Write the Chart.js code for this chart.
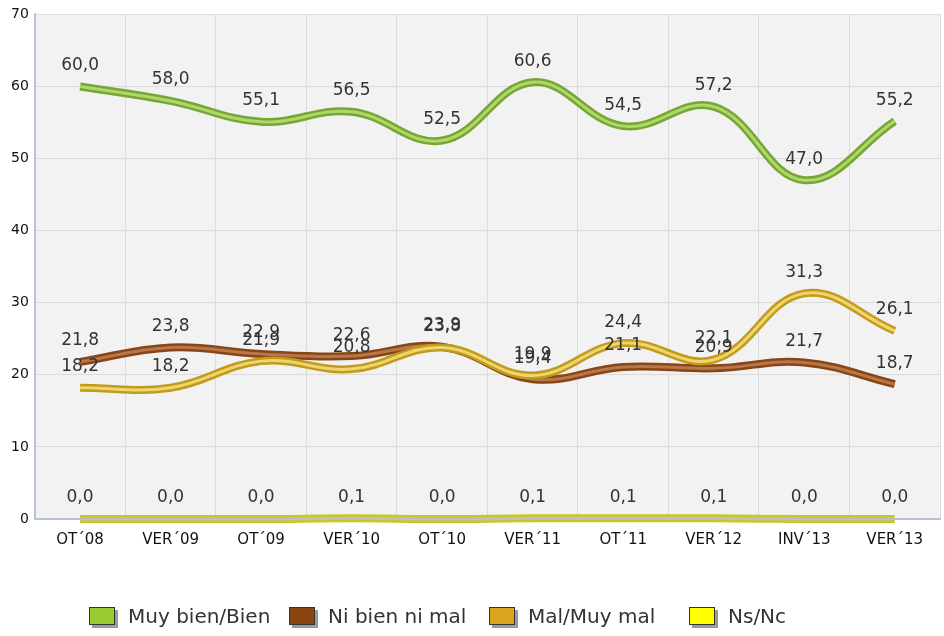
<!DOCTYPE html>
<html>
<head>
<meta charset="utf-8">
<script src="https://cdn.jsdelivr.net/npm/chart.js@4"></script>
<style>
    html, body { margin: 0; padding: 0; background: #fff; }
    #wrap { width: 944px; height: 636px; }
</style>
</head>
<body>
<div id="wrap"><canvas id="evolucionChart" width="944" height="636"></canvas></div>
<script>
const periodos = ['OT´08', 'VER´09', 'OT´09', 'VER´10', 'OT´10', 'VER´11', 'OT´11', 'VER´12', 'INV´13', 'VER´13'];
const muyBien = [60.0, 58.0, 55.1, 56.5, 52.5, 60.6, 54.5, 57.2, 47.0, 55.2];
const niBien = [21.8, 23.8, 22.9, 22.6, 23.9, 19.4, 21.1, 20.9, 21.7, 18.7];
const malMuyMal = [18.2, 18.2, 21.9, 20.8, 23.8, 19.9, 24.4, 22.1, 31.3, 26.1];
const nsNc = [0.0, 0.0, 0.0, 0.1, 0.0, 0.1, 0.1, 0.1, 0.0, 0.0];
const ticksY = [0, 10, 20, 30, 40, 50, 60, 70];

const FUENTE = 'DejaVu Sans';

// nombre, datos, color linea, brillo, color leyenda, orden
const series = [
    { label: 'Muy bien/Bien', data: muyBien, borde: '#76a634', brillo: '#b0d76a', leyenda: '#99cc33', orden: 4 },
    { label: 'Ni bien ni mal', data: niBien, borde: '#874518', brillo: '#b87747', leyenda: '#8b4513', orden: 2 },
    { label: 'Mal/Muy mal', data: malMuyMal, borde: '#c29a1c', brillo: '#edd66e', leyenda: '#daa520', orden: 0 },
    { label: 'Ns/Nc', data: nsNc, borde: '#c8c81e', brillo: '#b9c1c4', leyenda: '#ffff00', orden: 6 }
];

const datasets = [];
series.forEach(s => {
    datasets.push({ label: s.label, data: s.data, borderColor: s.borde, backgroundColor: s.borde, borderWidth: 8, pointRadius: 0, tension: 0.4, clip: false, order: s.orden + 1, principal: true });
    datasets.push({ label: s.label + '_brillo', data: s.data, borderColor: s.brillo, backgroundColor: s.brillo, borderWidth: 3, pointRadius: 0, tension: 0.4, clip: false, order: s.orden });
});

const fondoPlot = {
    id: 'fondoPlot',
    beforeDraw(chart) {
        const { ctx, chartArea: a } = chart;
        ctx.save();
        ctx.fillStyle = '#f2f2f2';
        ctx.fillRect(a.left, a.top, a.right - a.left, a.bottom - a.top);
        ctx.restore();
    }
};

const etiquetas = {
    id: 'etiquetas',
    afterDatasetsDraw(chart) {
        const ctx = chart.ctx;
        ctx.save();
        ctx.font = `17px "${FUENTE}"`;
        ctx.fillStyle = '#333333';
        ctx.textAlign = 'center';
        ctx.textBaseline = 'middle';
        chart.data.datasets.forEach((ds, i) => {
            if (!ds.principal) return;
            const meta = chart.getDatasetMeta(i);
            meta.data.forEach((pt, j) => {
                const txt = ds.data[j].toFixed(1).replace('.', ',');
                ctx.fillText(txt, pt.x, pt.y - 21);
            });
        });
        ctx.restore();
    }
};

// leyenda tipo excel: casillas de ancho fijo
const leyenda = {
    id: 'leyenda',
    afterDraw(chart) {
        const ctx = chart.ctx;
        const y = 617;
        ctx.save();
        ctx.font = `20px "${FUENTE}"`;
        ctx.textBaseline = 'middle';
        ctx.textAlign = 'left';
        series.forEach((s, i) => {
            const x = 89 + i * 200;
            ctx.fillStyle = '#9a9a9a';
            ctx.fillRect(x + 3, y - 7, 26, 18);
            ctx.fillStyle = s.leyenda;
            ctx.fillRect(x, y - 10, 26, 18);
            ctx.strokeStyle = '#333';
            ctx.lineWidth = 1;
            ctx.strokeRect(x + 0.5, y - 9.5, 25, 17);
            ctx.fillStyle = '#333';
            ctx.fillText(s.label, x + 39, y + 1);
        });
        ctx.restore();
    }
};

new Chart(document.getElementById('evolucionChart').getContext('2d'), {
    type: 'line',
    data: { labels: periodos, datasets: datasets },
    options: {
        responsive: false,
        animation: false,
        layout: { padding: { top: -10, right: 4, left: 5, bottom: 0 } },
        plugins: {
            tooltip: { enabled: false },
            legend: { display: false }
        },
        scales: {
            x: {
                offset: true,
                grid: { offset: true, color: '#dcdcdc', drawTicks: false },
                border: { color: '#b7c4d6', width: 2 },
                ticks: { color: '#111', padding: 12, font: { family: FUENTE, size: 15 } },
                afterFit: (scale) => { scale.height = 117; }
            },
            y: {
                min: 0,
                max: 70,
                afterBuildTicks: (scale) => { scale.ticks = ticksY.map(v => ({ value: v })); },
                grid: { color: '#dcdcdc', drawTicks: false },
                border: { color: '#b7c4d6', width: 2 },
                ticks: { color: '#111', padding: 6, font: { family: FUENTE, size: 14 } }
            }
        }
    },
    plugins: [fondoPlot, etiquetas, leyenda]
});
</script>
</body>
</html>
